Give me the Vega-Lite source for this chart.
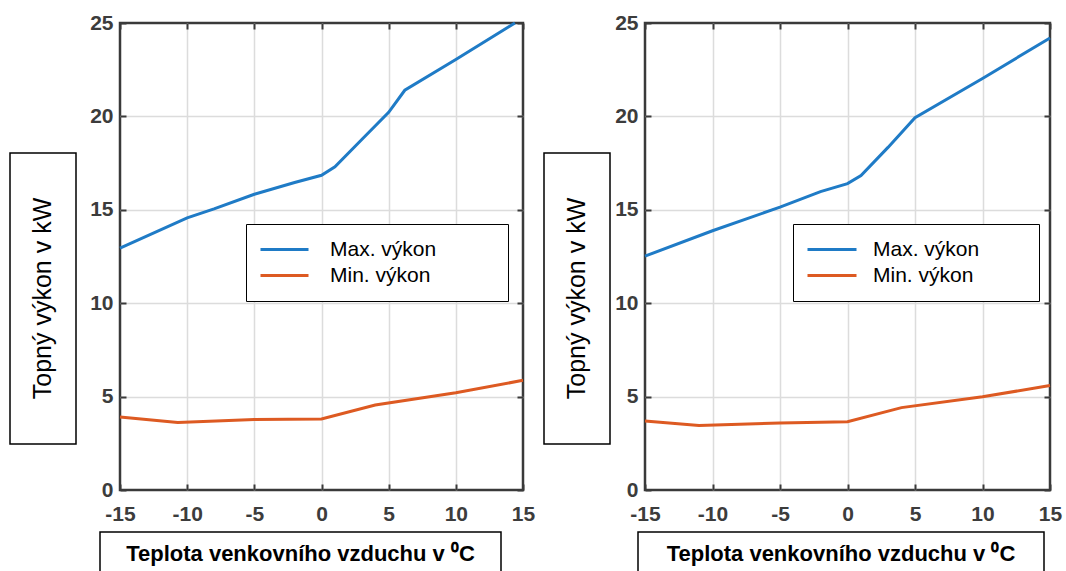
{
  "$schema": "https://vega.github.io/schema/vega-lite/v6.json",
  "padding": {"left": 9, "top": 10, "right": 0, "bottom": 0},
  "background": "white",
  "config": {
    "view": {"stroke": null},
    "concat": {"spacing": 0},
    "font": "Liberation Sans"
  },
  "datasets": {
    "left": [
      {"t": -15, "kw": 12.95, "series": "Max. výkon"},
      {"t": -10, "kw": 14.57, "series": "Max. výkon"},
      {"t": -8, "kw": 15.05, "series": "Max. výkon"},
      {"t": -5, "kw": 15.83, "series": "Max. výkon"},
      {"t": -2, "kw": 16.46, "series": "Max. výkon"},
      {"t": 0, "kw": 16.85, "series": "Max. výkon"},
      {"t": 1, "kw": 17.3, "series": "Max. výkon"},
      {"t": 3, "kw": 18.76, "series": "Max. výkon"},
      {"t": 5, "kw": 20.22, "series": "Max. výkon"},
      {"t": 6.2, "kw": 21.4, "series": "Max. výkon"},
      {"t": 10, "kw": 23.05, "series": "Max. výkon"},
      {"t": 14.4, "kw": 25.0, "series": "Max. výkon"},
      {"t": -15, "kw": 3.91, "series": "Min. výkon"},
      {"t": -10.7, "kw": 3.62, "series": "Min. výkon"},
      {"t": -5, "kw": 3.78, "series": "Min. výkon"},
      {"t": 0, "kw": 3.8, "series": "Min. výkon"},
      {"t": 4, "kw": 4.55, "series": "Min. výkon"},
      {"t": 10, "kw": 5.21, "series": "Min. výkon"},
      {"t": 15, "kw": 5.87, "series": "Min. výkon"}
    ],
    "right": [
      {"t": -15, "kw": 12.52, "series": "Max. výkon"},
      {"t": -10, "kw": 13.88, "series": "Max. výkon"},
      {"t": -5, "kw": 15.14, "series": "Max. výkon"},
      {"t": -2, "kw": 15.97, "series": "Max. výkon"},
      {"t": 0, "kw": 16.4, "series": "Max. výkon"},
      {"t": 1, "kw": 16.83, "series": "Max. výkon"},
      {"t": 3, "kw": 18.34, "series": "Max. výkon"},
      {"t": 5, "kw": 19.93, "series": "Max. výkon"},
      {"t": 10, "kw": 22.03, "series": "Max. výkon"},
      {"t": 15, "kw": 24.2, "series": "Max. výkon"},
      {"t": -15, "kw": 3.69, "series": "Min. výkon"},
      {"t": -11, "kw": 3.45, "series": "Min. výkon"},
      {"t": -5, "kw": 3.59, "series": "Min. výkon"},
      {"t": 0, "kw": 3.65, "series": "Min. výkon"},
      {"t": 4, "kw": 4.41, "series": "Min. výkon"},
      {"t": 10, "kw": 4.99, "series": "Min. výkon"},
      {"t": 15, "kw": 5.59, "series": "Min. výkon"}
    ]
  },
  "vconcat": [
    {
      "hconcat": [
        {
          "vconcat": [
            {"width": 66, "height": 129, "data": {"values": [{}]}, "mark": {"type": "text", "text": ""}},
            {
              "width": 66, "height": 291,
              "view": {"stroke": "black", "strokeWidth": 1.5, "fill": "white"},
              "data": {"values": [{"label": "Topný výkon v kW"}]},
              "mark": {"type": "text", "angle": 270, "fontSize": 25, "font": "Liberation Sans", "color": "black"},
              "encoding": {"text": {"field": "label"}}
            }
          ],
          "spacing": 0
        },
        {"width": 11, "height": 10, "data": {"values": [{}]}, "mark": {"type": "text", "text": ""}},
        {
          "width": 403, "height": 467,
          "view": {"stroke": "#3a3a3a", "strokeWidth": 2.5},
          "data": {"name": "left"},
          "layer": [
            {
              "mark": {"type": "line", "strokeWidth": 3},
              "encoding": {
                "x": {"field": "t", "type": "quantitative", "scale": {"domain": [-15, 15], "nice": false},
                  "axis": {"orient": "bottom", "values": [-15, -10, -5, 0, 5, 10, 15], "title": null, "domain": false, "grid": true,
                    "gridColor": {"condition": {"test": "datum.value == -15 || datum.value == 15", "value": "rgba(0,0,0,0)"}, "value": "#dcdcdc"},
                    "gridWidth": 1.5, "tickSize": -6, "tickWidth": 2, "tickColor": "#3a3a3a",
                    "labelFontSize": 21, "labelFontWeight": "bold", "labelColor": "#3c3c3c", "labelFont": "Liberation Sans",
                    "labelPadding": 19, "labelFlush": false, "labelOverlap": false, "labelExpr": "'' + datum.value"}},
                "y": {"field": "kw", "type": "quantitative", "scale": {"domain": [0, 25], "nice": false},
                  "axis": {"orient": "left", "values": [0, 5, 10, 15, 20, 25], "title": null, "domain": false, "grid": true,
                    "gridColor": {"condition": {"test": "datum.value == 0 || datum.value == 25", "value": "rgba(0,0,0,0)"}, "value": "#dcdcdc"},
                    "gridWidth": 1.5, "tickSize": -6, "tickWidth": 2, "tickColor": "#3a3a3a",
                    "labelFontSize": 21, "labelFontWeight": "bold", "labelColor": "#3c3c3c", "labelFont": "Liberation Sans",
                    "labelPadding": 13, "labelFlush": false, "labelOverlap": false, "labelExpr": "'' + datum.value"}},
                "color": {"field": "series", "type": "nominal",
                  "scale": {"domain": ["Max. výkon", "Min. výkon"], "range": ["#1f7bc6", "#dd5a22"]},
                  "legend": {"orient": "none", "legendX": 126, "legendY": 201, "title": null, "direction": "vertical",
                    "fillColor": "white", "strokeColor": "black", "padding": 13,
                    "symbolType": "stroke", "symbolSize": 2304, "symbolStrokeWidth": 3, "clipHeight": 25, "rowPadding": 1,
                    "labelFontSize": 21, "labelFont": "Liberation Sans", "labelColor": "black", "labelOffset": 20,
                    "labelLimit": 400, "labelExpr": "datum.label + '\u00a0\u00a0\u00a0\u00a0\u00a0\u00a0\u00a0\u00a0\u00a0\u00a0\u200b'"}}
              }
            },
            {
              "mark": {"type": "point", "opacity": 0},
              "encoding": {
                "x": {"field": "t", "type": "quantitative",
                  "axis": {"orient": "top", "values": [-15, -10, -5, 0, 5, 10, 15], "title": null, "domain": false, "grid": false, "labels": false,
                    "tickSize": -6, "tickWidth": 2, "tickColor": "#3a3a3a"}},
                "y": {"field": "kw", "type": "quantitative",
                  "axis": {"orient": "right", "values": [0, 5, 10, 15, 20, 25], "title": null, "domain": false, "grid": false, "labels": false,
                    "tickSize": -6, "tickWidth": 2, "tickColor": "#3a3a3a"}}
              }
            }
          ],
          "resolve": {"axis": {"x": "independent", "y": "independent"}}
        },
        {"width": 7, "height": 10, "data": {"values": [{}]}, "mark": {"type": "text", "text": ""}},
        {
          "vconcat": [
            {"width": 66, "height": 129, "data": {"values": [{}]}, "mark": {"type": "text", "text": ""}},
            {
              "width": 66, "height": 291,
              "view": {"stroke": "black", "strokeWidth": 1.5, "fill": "white"},
              "data": {"values": [{"label": "Topný výkon v kW"}]},
              "mark": {"type": "text", "angle": 270, "fontSize": 25, "font": "Liberation Sans", "color": "black"},
              "encoding": {"text": {"field": "label"}}
            }
          ],
          "spacing": 0
        },
        {"width": 2, "height": 10, "data": {"values": [{}]}, "mark": {"type": "text", "text": ""}},
        {
          "width": 405, "height": 467,
          "view": {"stroke": "#3a3a3a", "strokeWidth": 2.5},
          "data": {"name": "right"},
          "layer": [
            {
              "mark": {"type": "line", "strokeWidth": 3},
              "encoding": {
                "x": {"field": "t", "type": "quantitative", "scale": {"domain": [-15, 15], "nice": false},
                  "axis": {"orient": "bottom", "values": [-15, -10, -5, 0, 5, 10, 15], "title": null, "domain": false, "grid": true,
                    "gridColor": {"condition": {"test": "datum.value == -15 || datum.value == 15", "value": "rgba(0,0,0,0)"}, "value": "#dcdcdc"},
                    "gridWidth": 1.5, "tickSize": -6, "tickWidth": 2, "tickColor": "#3a3a3a",
                    "labelFontSize": 21, "labelFontWeight": "bold", "labelColor": "#3c3c3c", "labelFont": "Liberation Sans",
                    "labelPadding": 19, "labelFlush": false, "labelOverlap": false, "labelExpr": "'' + datum.value"}},
                "y": {"field": "kw", "type": "quantitative", "scale": {"domain": [0, 25], "nice": false},
                  "axis": {"orient": "left", "values": [0, 5, 10, 15, 20, 25], "title": null, "domain": false, "grid": true,
                    "gridColor": {"condition": {"test": "datum.value == 0 || datum.value == 25", "value": "rgba(0,0,0,0)"}, "value": "#dcdcdc"},
                    "gridWidth": 1.5, "tickSize": -6, "tickWidth": 2, "tickColor": "#3a3a3a",
                    "labelFontSize": 21, "labelFontWeight": "bold", "labelColor": "#3c3c3c", "labelFont": "Liberation Sans",
                    "labelPadding": 13, "labelFlush": false, "labelOverlap": false, "labelExpr": "'' + datum.value"}},
                "color": {"field": "series", "type": "nominal",
                  "scale": {"domain": ["Max. výkon", "Min. výkon"], "range": ["#1f7bc6", "#dd5a22"]},
                  "legend": {"orient": "none", "legendX": 148, "legendY": 201, "title": null, "direction": "vertical",
                    "fillColor": "white", "strokeColor": "black", "padding": 13,
                    "symbolType": "stroke", "symbolSize": 2401, "symbolStrokeWidth": 3, "clipHeight": 25, "rowPadding": 1,
                    "labelFontSize": 21, "labelFont": "Liberation Sans", "labelColor": "black", "labelOffset": 15,
                    "labelLimit": 400, "labelExpr": "datum.label + '\u00a0\u00a0\u00a0\u00a0\u00a0\u00a0\u00a0\u00a0\u200b'"}}
              }
            },
            {
              "mark": {"type": "point", "opacity": 0},
              "encoding": {
                "x": {"field": "t", "type": "quantitative",
                  "axis": {"orient": "top", "values": [-15, -10, -5, 0, 5, 10, 15], "title": null, "domain": false, "grid": false, "labels": false,
                    "tickSize": -6, "tickWidth": 2, "tickColor": "#3a3a3a"}},
                "y": {"field": "kw", "type": "quantitative",
                  "axis": {"orient": "right", "values": [0, 5, 10, 15, 20, 25], "title": null, "domain": false, "grid": false, "labels": false,
                    "tickSize": -6, "tickWidth": 2, "tickColor": "#3a3a3a"}}
              }
            }
          ],
          "resolve": {"axis": {"x": "independent", "y": "independent"}}
        }
      ],
      "spacing": 0,
      "resolve": {"scale": {"color": "independent"}, "legend": {"color": "independent"}}
    },
    {
      "hconcat": [
        {"width": 88.25, "height": 44, "data": {"values": [{}]}, "mark": {"type": "text", "text": ""}},
        {
          "width": 401, "height": 44,
          "view": {"stroke": "black", "strokeWidth": 1.5, "fill": "white"},
          "data": {"values": [{"label": "Teplota venkovního vzduchu v ⁰C"}]},
          "mark": {"type": "text", "fontSize": 22, "fontWeight": "bold", "font": "Liberation Sans", "color": "black"},
          "encoding": {"text": {"field": "label"}}
        },
        {"width": 134.5, "height": 44, "data": {"values": [{}]}, "mark": {"type": "text", "text": ""}},
        {
          "width": 406, "height": 44,
          "view": {"stroke": "black", "strokeWidth": 1.5, "fill": "white"},
          "data": {"values": [{"label": "Teplota venkovního vzduchu v ⁰C"}]},
          "mark": {"type": "text", "fontSize": 22, "fontWeight": "bold", "font": "Liberation Sans", "color": "black"},
          "encoding": {"text": {"field": "label"}}
        }
      ],
      "spacing": 0
    }
  ],
  "spacing": 5,
  "resolve": {"scale": {"color": "independent"}, "legend": {"color": "independent"}}
}
